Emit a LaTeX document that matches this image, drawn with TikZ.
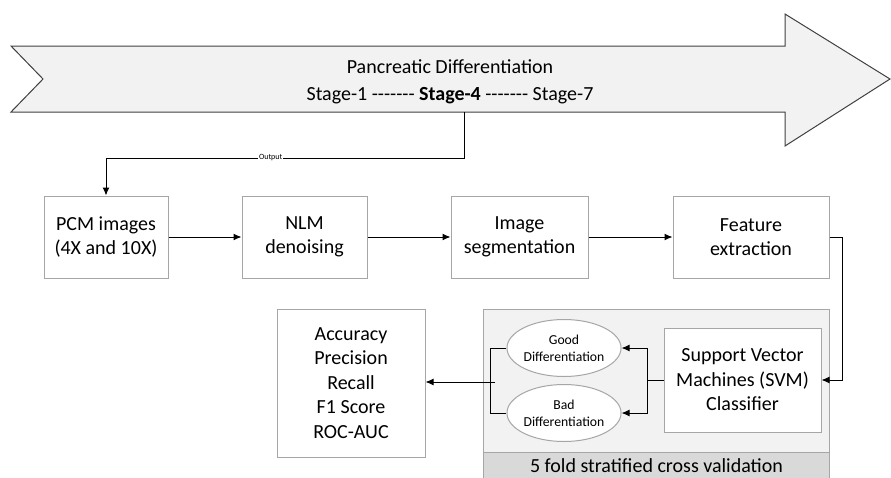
\documentclass[tikz,border=0pt]{standalone}
\usepackage{fontspec}
\setmainfont{Carlito}
\usetikzlibrary{arrows.meta}
\usetikzlibrary{shapes.geometric}
\usetikzlibrary{positioning}

\definecolor{panelgray}{HTML}{F2F2F2}
\definecolor{bandgray}{HTML}{D9D9D9}
\definecolor{edgegray}{HTML}{404040}
\definecolor{boxline}{HTML}{A6A6A6}

\newcommand{\stepfont}{\fontsize{20}{24.5}\selectfont}
\newcommand{\classfont}{\fontsize{13.7}{17}\selectfont}
\newcommand{\stagedash}{-{}-{}-{}-{}-{}-{}-}

\tikzset{
	stepbox/.style={draw=boxline,fill=white,align=center,font=\stepfont,minimum height=82,inner sep=2pt},
	classell/.style={ellipse,draw=boxline,fill=white,align=center,font=\classfont,minimum width=107,minimum height=57,inner sep=0pt},
}

\begin{document}
\begin{tikzpicture}[x=1pt,y=-1pt,>={Latex[length=8pt,width=7pt]},line width=1pt]
	\useasboundingbox (0,0) rectangle (891,477);
	% stage arrow
	\draw[draw=edgegray,fill=panelgray] (11,46) -- (785,46) -- (785,14) -- (890,79) -- (785,146) -- (785,112) -- (11,112) -- (43,79) -- cycle;
	\node[font=\stepfont,align=center](stage) at (450,82){Pancreatic Differentiation\\[3pt]Stage-1 \stagedash{} \textbf{Stage-4} \stagedash{} Stage-7};
	\coordinate (out) at (464,112);
	\coordinate (bend) at (464,158);
	% pipeline
	\node[stepbox,minimum width=124](pcm) at (106,237){PCM images\\(4X and 10X)};
	\node[stepbox,minimum width=125](nlm) at (304.5,237){NLM\\denoising};
	\node[stepbox,minimum width=137](seg) at (519.5,237){Image\\segmentation};
	\node[stepbox,minimum width=156](feat) at (751,237){Feature\\extraction};
	% cross validation
	\node[draw=boxline,fill=panelgray,minimum width=346,minimum height=143,anchor=north west](cv) at (483,309){};
	\node[draw=boxline,fill=bandgray,minimum width=346,minimum height=26,anchor=north west,font=\stepfont](band) at (483,452){5 fold stratified cross validation};
	\node[stepbox,minimum width=157,minimum height=104](svm) at (742.5,380){Support Vector\\Machines (SVM)\\Classifier};
	\node[classell](good) at (564,348){Good\\Differentiation};
	\node[classell](bad) at (564,413){Bad\\Differentiation};
	\node[stepbox,minimum width=148,minimum height=148](metrics) at (351,383){Accuracy\\Precision\\Recall\\F1 Score\\ROC-AUC};
	% connectors
	\draw[->] (out) -- (bend) -| node[pos=0.27,fill=white,inner sep=1pt,font=\fontsize{8}{9}\selectfont]{Output} (pcm.north);
	\draw[->] (pcm.east) -- (nlm.west);
	\draw[->] (nlm.east) -- (seg.west);
	\draw[->] (seg.east) -- (feat.west);
	\draw[->] (feat.east) -- ++(13,0) |- (svm.east);
	\draw (svm.west) -- ++(-16,0) coordinate (split);
	\draw[->] (split) |- (good.east);
	\draw[->] (split) |- (bad.east);
	\draw (good.west) -- ++(-16,0) |- (bad.west);
	\coordinate (join) at (495,382);
	\draw[->] (join) -- (metrics.east |- join);
\end{tikzpicture}
\end{document}
